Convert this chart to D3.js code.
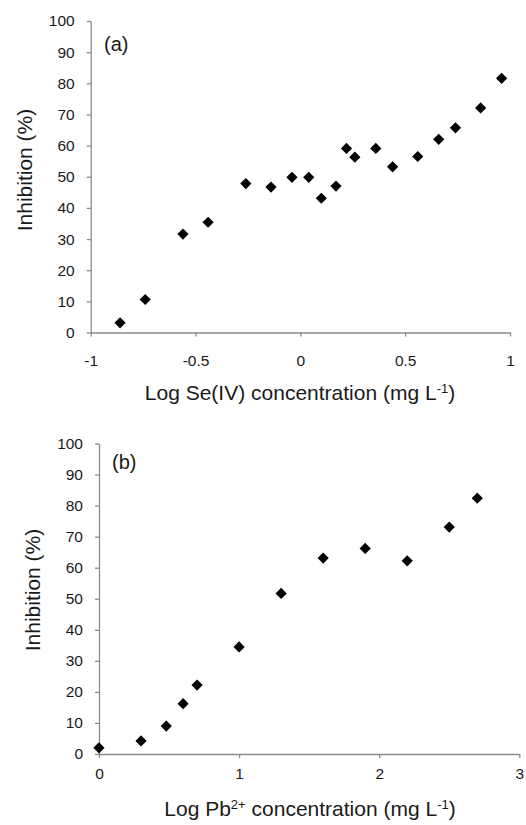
<!DOCTYPE html>
<html>
<head>
<meta charset="utf-8">
<script src="https://cdn.jsdelivr.net/npm/d3@7"></script>
<style>
  html, body { margin: 0; padding: 0; background: #ffffff; }
  svg { display: block; }
  text { font-family: "Liberation Sans", Arial, Helvetica, sans-serif; fill: #1a1a1a; }
</style>
</head>
<body>
<svg id="chart" width="526" height="825"></svg>
<script>
// ---- Data ----
const seLogConc = [-0.86, -0.74, -0.56, -0.44, -0.26, -0.14, -0.04, 0.04, 0.10, 0.17, 0.22, 0.26, 0.36, 0.44, 0.56, 0.66, 0.74, 0.86, 0.96];
const seInhibition = [3.1, 10.6, 31.6, 35.4, 47.8, 46.7, 49.8, 49.8, 43.1, 47.0, 59.1, 56.3, 59.1, 53.2, 56.5, 62.0, 65.7, 72.1, 81.6];

const pbLogConc = [0, 0.30, 0.48, 0.60, 0.70, 1.00, 1.30, 1.60, 1.90, 2.20, 2.50, 2.70];
const pbInhibition = [2.0, 4.2, 9.0, 16.2, 22.2, 34.5, 51.7, 63.1, 66.2, 62.2, 73.1, 82.4];

const yTicks = [0, 10, 20, 30, 40, 50, 60, 70, 80, 90, 100];
const seXTicks = [-1, -0.5, 0, 0.5, 1];
const pbXTicks = [0, 1, 2, 3];

const svg = d3.select("#chart");
const axisColor = "#8a8a8a";

function panel(cfg) {
  const x = d3.scaleLinear().domain(cfg.xDomain).range([cfg.left, cfg.right]);
  const y = d3.scaleLinear().domain([0, 100]).range([cfg.bottom, cfg.top]);
  const g = svg.append("g");

  const yAxis = d3.axisLeft(y).tickValues(yTicks).tickSize(4).tickSizeOuter(0).tickPadding(12)
    .tickFormat(d => String(d));
  const gy = g.append("g").attr("transform", `translate(${cfg.left},0)`).call(yAxis);
  const xAxis = d3.axisBottom(x).tickValues(cfg.xTicks).tickSize(4).tickSizeOuter(0).tickPadding(cfg.xPad)
    .tickFormat(d => String(d));
  const gx = g.append("g").attr("transform", `translate(0,${cfg.bottom})`).call(xAxis);

  [gx, gy].forEach(a => {
    a.select(".domain").attr("stroke", axisColor).attr("stroke-width", 1.3);
    a.selectAll(".tick line").attr("stroke", axisColor).attr("stroke-width", 1.3);
    a.selectAll(".tick text").attr("fill", "#1a1a1a").style("font-size", "15.5px")
      .style("font-family", "'Liberation Sans', Arial, sans-serif");
  });

  // panel label
  g.append("text").attr("x", cfg.labelX).attr("y", cfg.labelY)
    .style("font-size", "20px").text(cfg.label);

  // y title
  g.append("text")
    .attr("transform", `translate(${cfg.yTitleX},${cfg.yTitleY}) rotate(-90)`)
    .attr("text-anchor", "middle")
    .style("font-size", "21px")
    .text("Inhibition (%)");

  // x title
  const t = g.append("text").attr("x", cfg.xTitleX).attr("y", cfg.xTitleY)
    .attr("text-anchor", "middle").style("font-size", "21px");
  cfg.xTitle.forEach(part => {
    const ts = t.append("tspan").text(part.t);
    if (part.sup) ts.attr("dy", -7).style("font-size", "13px");
    else if (part.after) ts.attr("dy", 7);
  });

  // markers
  const sym = d3.symbol().type(d3.symbolDiamond2 || d3.symbolSquare).size(80);
  g.append("g").selectAll("path")
    .data(cfg.xs.map((v, i) => [v, cfg.ys[i]]))
    .join("path")
    .attr("transform", d => `translate(${x(d[0])},${y(d[1])})`)
    .attr("d", sym)
    .attr("fill", "#000");
}

panel({
  xDomain: [-1, 1], xTicks: seXTicks, xs: seLogConc, ys: seInhibition,
  left: 90.7, right: 510, top: 21, bottom: 332.5, xPad: 18,
  label: "(a)", labelX: 104, labelY: 51,
  yTitleX: 32, yTitleY: 170,
  xTitleX: 300, xTitleY: 400,
  xTitle: [{t: "Log Se(IV) concentration (mg L"}, {t: "-1", sup: true}, {t: ")", after: true}]
});

panel({
  xDomain: [0, 3], xTicks: pbXTicks, xs: pbLogConc, ys: pbInhibition,
  left: 99, right: 519.3, top: 443.5, bottom: 754, xPad: 10,
  label: "(b)", labelX: 112, labelY: 469,
  yTitleX: 40, yTitleY: 590,
  xTitleX: 310, xTitleY: 816,
  xTitle: [{t: "Log Pb"}, {t: "2+", sup: true}, {t: " concentration (mg L", after: true}, {t: "-1", sup: true}, {t: ")", after: true}]
});
</script>
</body>
</html>
